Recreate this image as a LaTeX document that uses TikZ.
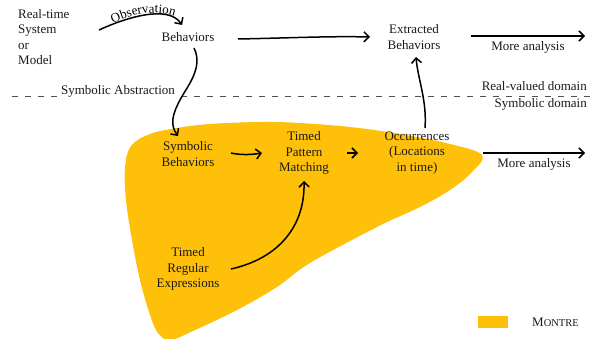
\documentclass[tikz,border=0pt]{standalone}
\usepackage{fontspec}
\setmainfont{Liberation Serif}
\usetikzlibrary{arrows.meta,decorations.text}
\definecolor{montre}{RGB}{254,192,8}
\definecolor{dashcol}{RGB}{80,80,80}
\tikzset{
  lbl/.style={font=\fontsize{13}{15.5}\selectfont, align=center, inner sep=1pt, text=black!90},
  arr/.style={line width=1.5pt, -{Straight Barb[length=5pt,width=10pt,line width=1.5pt]}},
}
\begin{document}
\begin{tikzpicture}[x=1pt,y=-1pt]
\useasboundingbox (0,0) rectangle (597,339);
% blob
\fill[montre] plot[smooth cycle, tension=0.6] coordinates {
 (131,146) (150,134) (177,128) (210,124) (260,122) (300,123) (350,127) (400,134) (450,144) (482,155)
 (472,172) (450,190) (420,207) (377,227) (310,263) (277,287) (237,310) (193,331) (170,340)
 (158,333) (150,315) (140,280) (132,240) (126,200) (125,168)};
% dashed separator
\draw[dashcol, line width=0.9pt, dash pattern=on 6pt off 7pt] (12,96) -- (597,96);
% nodes
\node[lbl, anchor=west, align=left] (sys) at (17,37) {Real-time\\System\\or\\Model};
\node[lbl] (beh) at (188,37) {Behaviors};
\node[lbl] (ext) at (414,37) {Extracted\\Behaviors};
\node[lbl] (more1) at (528,47) {More analysis};
\node[lbl, fill=white, inner sep=2pt] (abs) at (118,91) {Symbolic Abstraction};
\node[lbl, anchor=east] (real) at (588,86) {Real-valued domain};
\node[lbl, anchor=east] (symd) at (588,104) {Symbolic domain};
\node[lbl] (symb) at (188,154) {Symbolic\\Behaviors};
\node[lbl] (tpm) at (304,153) {Timed\\Pattern\\Matching};
\node[lbl] (occ) at (417,153) {Occurrences\\(Locations\\in time)};
\node[lbl] (more2) at (534,164) {More analysis};
\node[lbl] (tre) at (188,269) {Timed\\Regular\\Expressions};
% connector end points
\coordinate (obs) at (99,30);
\coordinate (behIn) at (182,25);
\coordinate (behE) at (238,39);
\coordinate (extW) at (370,37);
\coordinate (extE) at (471,36);
\coordinate (m1end) at (585,36);
\coordinate (behS) at (194,48);
\coordinate (symbN) at (178,136);
\coordinate (symbE) at (231,153);
\coordinate (tpmW) at (262,153);
\coordinate (tpmE) at (347,153);
\coordinate (occW) at (358,153);
\coordinate (occN) at (425,128);
\coordinate (extS) at (416,57);
\coordinate (occE) at (483,153);
\coordinate (m2end) at (585,153);
\coordinate (treE) at (231,269);
\coordinate (tpmS) at (304,181);
% legend
\fill[montre] (478,316) rectangle (508,328);
\node[lbl, anchor=west] (leg) at (531,322) {M{\fontsize{10.5}{12}\selectfont ONTRE}};
% observation
\draw[arr] (obs) .. controls (125,18) and (168,4) .. (behIn);
\path[decorate, decoration={text along path, text align=center,
  text={|\fontsize{13}{15}\selectfont|Observation}}]
  (106,27) .. controls (130,13) and (160,8) .. (182,19);
% arrows
\draw[arr] (behE) .. controls (290,38) and (330,36) .. (extW);
\draw[arr] (extE) .. controls (510,36) and (550,36) .. (m1end);
\draw[arr] (behS) .. controls (204,68) and (186,88) .. (180,100)
   .. controls (172,115) and (170,125) .. (symbN);
\draw[arr] (symbE) .. controls (240,155) and (250,155) .. (tpmW);
\draw[arr] (tpmE) -- (occW);
\draw[arr] (occN) .. controls (427,100) and (418,80) .. (extS);
\draw[arr] (occE) .. controls (520,153) and (550,153) .. (m2end);
\draw[arr] (treE) .. controls (280,258) and (305,225) .. (tpmS);
\end{tikzpicture}
\end{document}
